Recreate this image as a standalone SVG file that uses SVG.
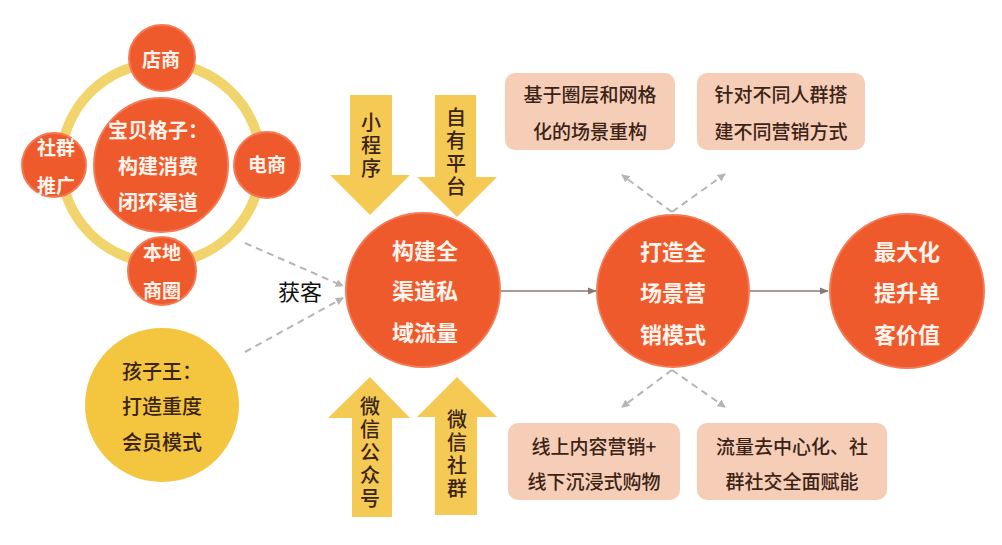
<svg xmlns="http://www.w3.org/2000/svg" width="1002" height="545" viewBox="0 0 1002 545">
<defs>
<style>
.red{fill:#EF5A2C;stroke:#F47A55;stroke-width:2}
.wt{fill:#FFF4EC;font-family:"Noto Sans CJK SC","Noto Sans",sans-serif;font-weight:700;text-anchor:middle}
.dk{fill:#3B2416;font-family:"Noto Sans CJK SC","Noto Sans",sans-serif;font-weight:500;text-anchor:middle}
.vt{fill:#3B2416;font-family:"Noto Sans CJK SC","Noto Sans",sans-serif;font-weight:500;font-size:20px;writing-mode:vertical-rl;text-anchor:start;letter-spacing:3px}
.box{fill:#F6CEB8}
.arr{fill:#F4CA55}
.dash{stroke:#B5B5B5;stroke-width:2;stroke-dasharray:7 5;fill:none}
.solid{stroke:#8A7A72;stroke-width:1.5;fill:none}
</style>
<marker id="ah" viewBox="0 0 10 10" refX="9" refY="5" markerWidth="8" markerHeight="8" orient="auto" markerUnits="userSpaceOnUse">
<path d="M0,0 L10,5 L0,10 z" fill="#B5B5B5"/>
</marker>
<marker id="ah2" viewBox="0 0 10 10" refX="9" refY="5" markerWidth="9" markerHeight="9" orient="auto" markerUnits="userSpaceOnUse">
<path d="M0,1 L10,5 L0,9 z" fill="#8A7A72"/>
</marker>
</defs>
<rect width="1002" height="545" fill="#FFFFFF"/>

<g id="connectors">
<line class="dash" x1="245" y1="243" x2="343" y2="286" marker-end="url(#ah)"/>
<line class="dash" x1="245" y1="352" x2="343" y2="298" marker-end="url(#ah)"/>
<line class="solid" x1="501" y1="291" x2="596" y2="291" marker-end="url(#ah2)"/>
<line class="solid" x1="750" y1="291" x2="828" y2="291" marker-end="url(#ah2)"/>
<line class="dash" x1="672" y1="212" x2="622" y2="175" marker-end="url(#ah)"/>
<line class="dash" x1="672" y1="212" x2="725" y2="174" marker-end="url(#ah)"/>
<line class="dash" x1="672" y1="370" x2="622" y2="407" marker-end="url(#ah)"/>
<line class="dash" x1="672" y1="370" x2="725" y2="407" marker-end="url(#ah)"/>
</g>

<g id="ring">
<circle cx="161" cy="163" r="100" fill="none" stroke="#F1D56C" stroke-width="10"/>
</g>
<g id="baobei">
<circle class="red" cx="161" cy="165" r="67"/>
<text class="wt" font-size="20" x="158" y="138">宝贝格子：</text>
<text class="wt" font-size="20" x="158" y="174">构建消费</text>
<text class="wt" font-size="20" x="158" y="210">闭环渠道</text>
</g>
<g id="dianshang">
<circle class="red" cx="162" cy="58" r="33"/>
<text class="wt" font-size="19" x="161" y="67">店商</text>
</g>
<g id="shequn">
<circle class="red" cx="54" cy="165" r="32"/>
<text class="wt" font-size="19" x="56" y="155">社群</text>
<text class="wt" font-size="19" x="56" y="193">推广</text>
</g>
<g id="dianshang2">
<circle class="red" cx="267" cy="165" r="33"/>
<text class="wt" font-size="19" x="267" y="172">电商</text>
</g>
<g id="bendi">
<circle class="red" cx="162" cy="271" r="34"/>
<text class="wt" font-size="19" x="162" y="260">本地</text>
<text class="wt" font-size="19" x="162" y="298">商圈</text>
</g>

<g id="haiziwang">
<circle cx="162" cy="405" r="77" fill="#F4C640"/>
<text class="dk" font-size="20" x="122" y="379" style="text-anchor:start">孩子王：</text>
<text class="dk" font-size="20" x="122" y="414" style="text-anchor:start">打造重度</text>
<text class="dk" font-size="20" x="122" y="450" style="text-anchor:start">会员模式</text>
</g>

<g id="huoke">
<text x="300" y="300" font-size="22" fill="#111" font-family="'Noto Sans CJK SC','Noto Sans',sans-serif" text-anchor="middle">获客</text>
</g>

<g id="xiaochengxu">
<path class="arr" d="M350,95 L392,95 L392,175 L410,175 L370,215 L330,175 L350,175 Z"/>
<text class="vt" x="371" y="112">小程序</text>
</g>
<g id="ziyou">
<path class="arr" d="M435,95 L476,95 L476,177 L497,177 L457,217 L417,177 L435,177 Z"/>
<text class="vt" x="456" y="107">自有平台</text>
</g>
<g id="gongzhonghao">
<path class="arr" d="M352,517 L392,517 L392,418 L410,418 L370,377 L328,418 L352,418 Z"/>
<text class="vt" x="370" y="396">微信公众号</text>
</g>
<g id="shequn2">
<path class="arr" d="M435,515 L477,515 L477,417 L497,417 L457,377 L417,417 L435,417 Z"/>
<text class="vt" x="457" y="409">微信社群</text>
</g>

<g id="goujian">
<circle class="red" cx="423" cy="290" r="77"/>
<text class="wt" font-size="22" x="425" y="259">构建全</text>
<text class="wt" font-size="22" x="425" y="299">渠道私</text>
<text class="wt" font-size="22" x="425" y="341">域流量</text>
</g>
<g id="dazao">
<circle class="red" cx="673" cy="291" r="76"/>
<text class="wt" font-size="22" x="673" y="260">打造全</text>
<text class="wt" font-size="22" x="673" y="301">场景营</text>
<text class="wt" font-size="22" x="673" y="343">销模式</text>
</g>
<g id="zuidahua">
<circle class="red" cx="907" cy="291" r="77"/>
<text class="wt" font-size="22" x="907" y="260">最大化</text>
<text class="wt" font-size="22" x="907" y="301">提升单</text>
<text class="wt" font-size="22" x="907" y="343">客价值</text>
</g>

<g id="box1">
<rect class="box" x="505" y="73" width="170" height="77" rx="10"/>
<text class="dk" font-size="19" x="590" y="102">基于圈层和网格</text>
<text class="dk" font-size="19" x="590" y="139">化的场景重构</text>
</g>
<g id="box2">
<rect class="box" x="697" y="73" width="168" height="77" rx="10"/>
<text class="dk" font-size="19" x="781" y="102">针对不同人群搭</text>
<text class="dk" font-size="19" x="781" y="139">建不同营销方式</text>
</g>
<g id="box3">
<rect class="box" x="508" y="423" width="172" height="77" rx="10"/>
<text class="dk" font-size="19" x="594" y="454">线上内容营销+</text>
<text class="dk" font-size="19" x="594" y="489">线下沉浸式购物</text>
</g>
<g id="box4">
<rect class="box" x="697" y="423" width="190" height="77" rx="10"/>
<text class="dk" font-size="19" x="792" y="454">流量去中心化、社</text>
<text class="dk" font-size="19" x="792" y="489">群社交全面赋能</text>
</g>
</svg>
